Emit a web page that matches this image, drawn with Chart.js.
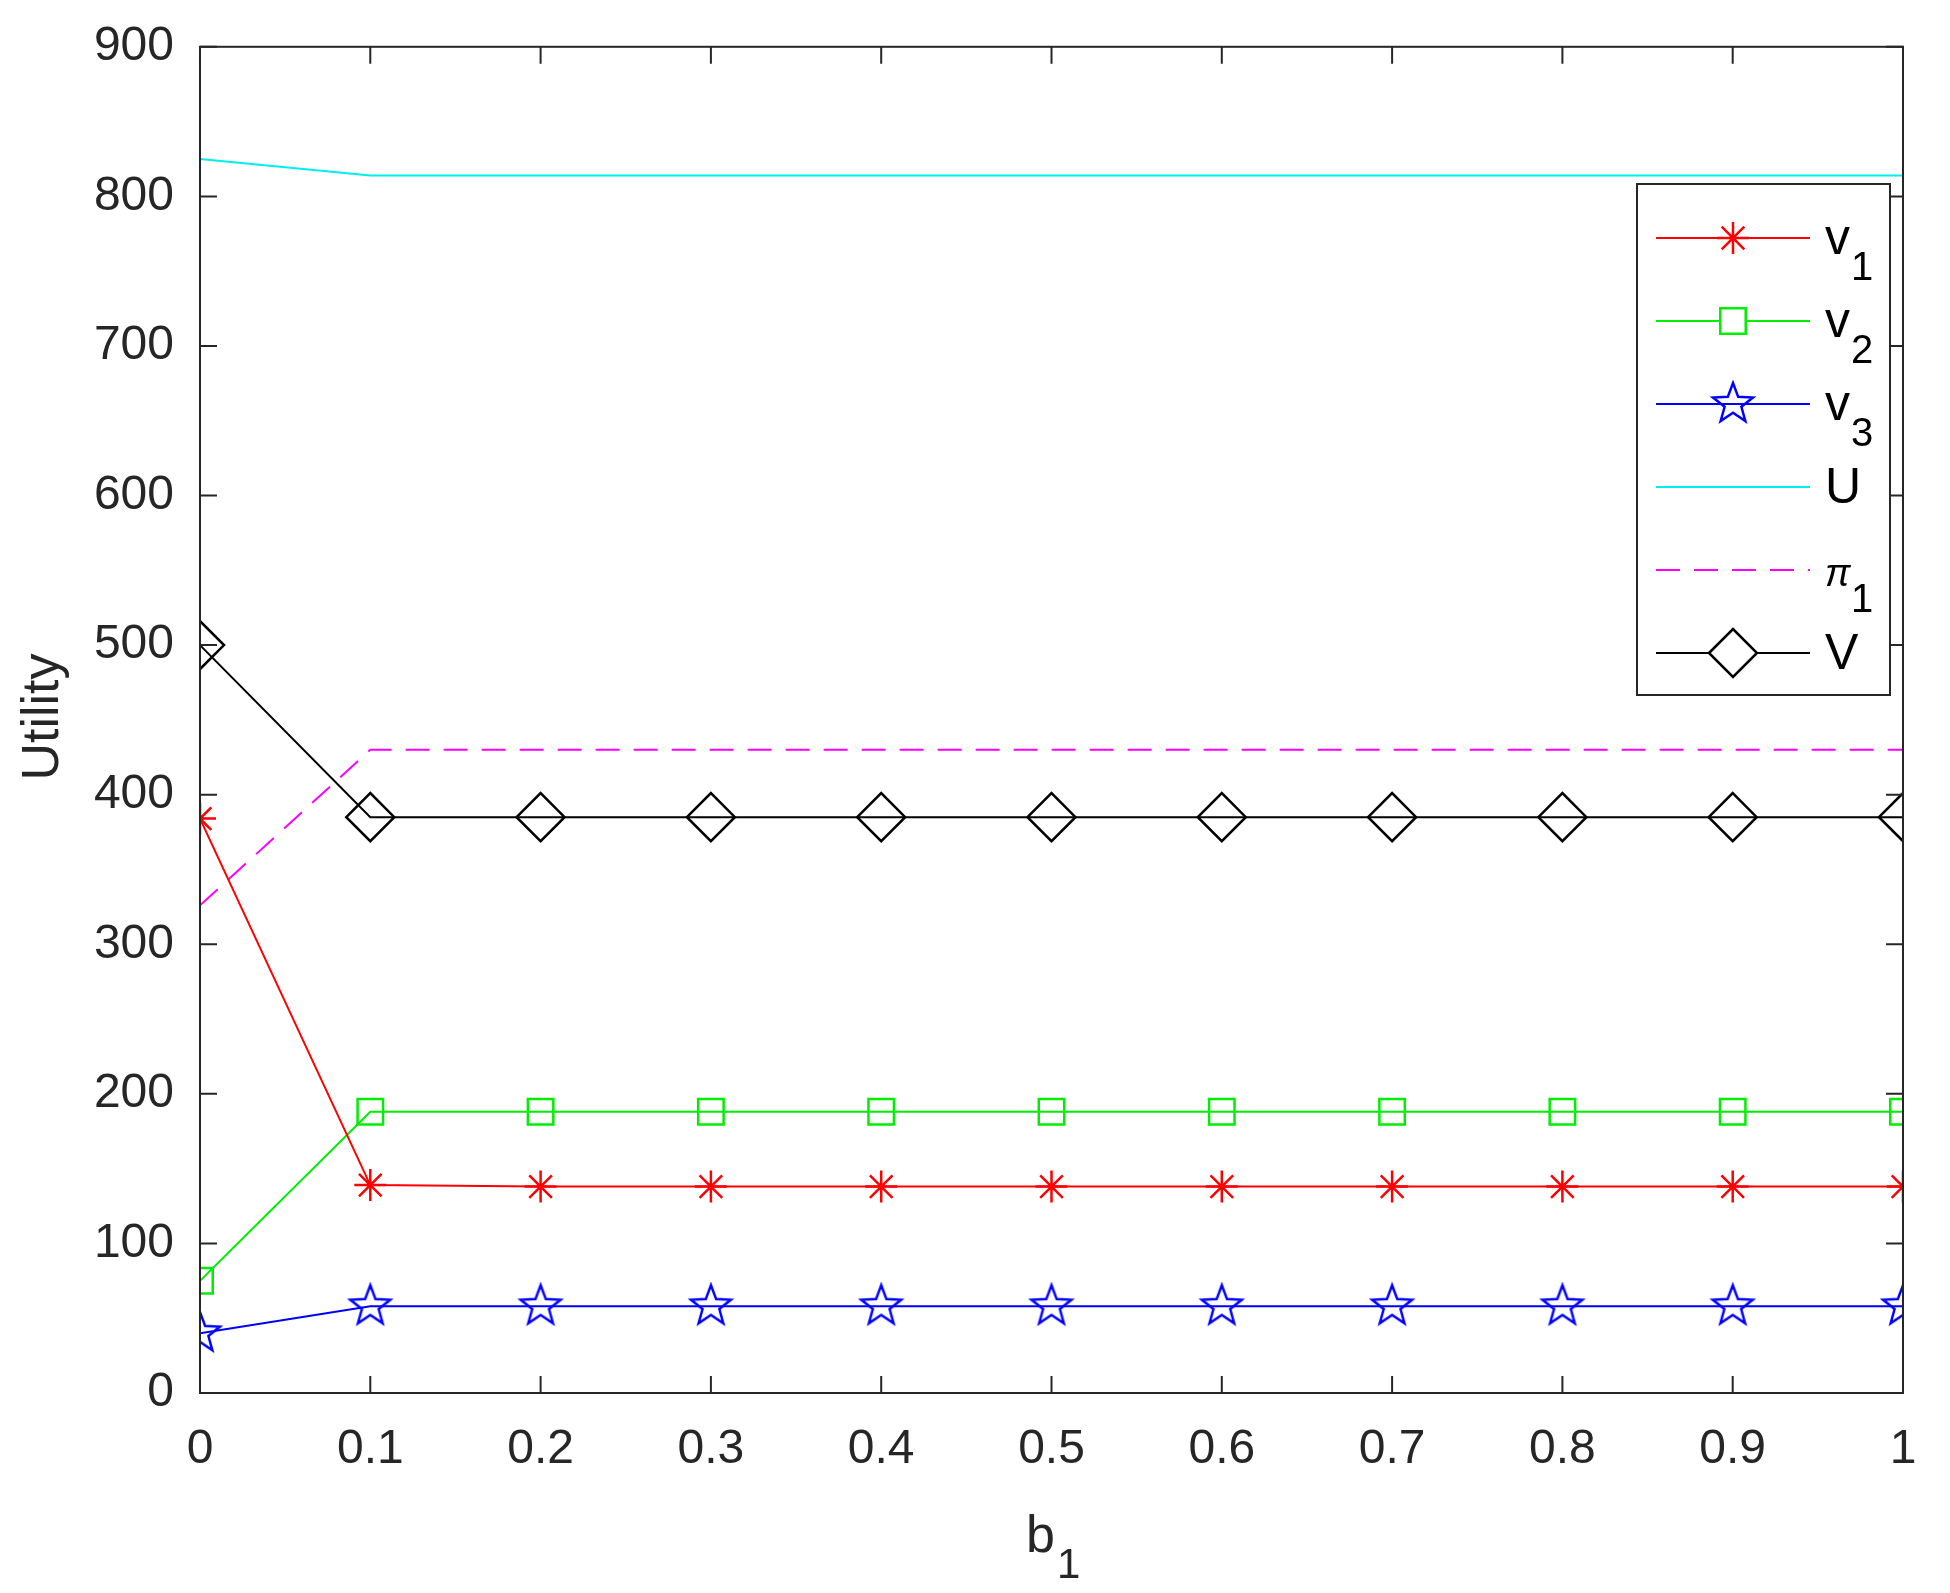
<!DOCTYPE html>
<html><head><meta charset="utf-8">
<script src="https://cdn.jsdelivr.net/npm/chart.js@4/dist/chart.umd.min.js"></script>
<style>body{margin:0;background:#fff}</style>
</head><body>
<canvas id="myChart" width="1950" height="1593" style="width:1950px;height:1593px"></canvas>
<script>
let b1Values = [0, 0.1, 0.2, 0.3, 0.4, 0.5, 0.6, 0.7, 0.8, 0.9, 1];
let v1Values = [384, 139, 138, 138, 138, 138, 138, 138, 138, 138, 138];
let v2Values = [75, 188, 188, 188, 188, 188, 188, 188, 188, 188, 188];
let v3Values = [40, 58, 58, 58, 58, 58, 58, 58, 58, 58, 58];
let uValues = [825, 814, 814, 814, 814, 814, 814, 814, 814, 814, 814];
let pi1Values = [326, 430, 430, 430, 430, 430, 430, 430, 430, 430, 430];
let vValues = [500, 385, 385, 385, 385, 385, 385, 385, 385, 385, 385];
let xTicks = [0, 0.1, 0.2, 0.3, 0.4, 0.5, 0.6, 0.7, 0.8, 0.9, 1];
let yTicks = [0, 100, 200, 300, 400, 500, 600, 700, 800, 900];

const FONT = '"Liberation Sans", Arial, sans-serif';

function pentagram(color, r) {
    let c = document.createElement('canvas');
    c.width = c.height = 2 * r + 6;
    let g = c.getContext('2d');
    g.strokeStyle = color; g.lineWidth = 2.5;
    g.beginPath();
    for (let i = 0; i < 10; i++) {
        let a = -Math.PI / 2 + i * Math.PI / 5;
        let rr = i % 2 ? r * 0.42 : r;
        let px = r + 3 + rr * Math.cos(a), py = r + 3 + rr * Math.sin(a);
        i ? g.lineTo(px, py) : g.moveTo(px, py);
    }
    g.closePath(); g.stroke();
    return c;
}
const starImg = pentagram('#0000ff', 21);

function pts(arr) { return arr.map((y, i) => ({x: b1Values[i], y: y})); }

const series = [
    {label: 'v', sub: '1', data: v1Values, color: '#ff0000', style: 'star', r: 16},
    {label: 'v', sub: '2', data: v2Values, color: '#00ee00', style: 'rect', r: 18},
    {label: 'v', sub: '3', data: v3Values, color: '#0000ff', style: starImg, r: 21},
    {label: 'U', sub: '', data: uValues, color: '#00eeee', style: false, r: 0},
    {label: 'π', sub: '1', data: pi1Values, color: '#ff00ff', style: false, r: 0, dash: [24, 14]},
    {label: 'V', sub: '', data: vValues, color: '#000000', style: 'rectRot', r: 24}
];

const framePlugin = {
    id: 'frame',
    afterDraw(chart) {
        const ctx = chart.ctx, a = chart.chartArea;
        const xs = chart.scales.x, ys = chart.scales.y;
        ctx.save();
        ctx.strokeStyle = '#262626'; ctx.lineWidth = 2;
        ctx.strokeRect(a.left, a.top, a.right - a.left, a.bottom - a.top);
        ctx.beginPath();
        xTicks.forEach(t => {
            let px = xs.getPixelForValue(t);
            ctx.moveTo(px, a.bottom); ctx.lineTo(px, a.bottom - 17);
            ctx.moveTo(px, a.top); ctx.lineTo(px, a.top + 17);
        });
        yTicks.forEach(t => {
            let py = ys.getPixelForValue(t);
            ctx.moveTo(a.left, py); ctx.lineTo(a.left + 17, py);
            ctx.moveTo(a.right, py); ctx.lineTo(a.right - 17, py);
        });
        ctx.stroke();
        // axis titles
        ctx.fillStyle = '#262626';
        ctx.font = '52px ' + FONT;
        ctx.textAlign = 'left'; ctx.textBaseline = 'alphabetic';
        ctx.fillText('b', 1026, 1552);
        ctx.font = '42px ' + FONT;
        ctx.fillText('1', 1057, 1578);
        ctx.save();
        ctx.translate(58, 717); ctx.rotate(-Math.PI / 2);
        ctx.font = '52px ' + FONT; ctx.textAlign = 'center';
        ctx.fillText('Utility', 0, 0);
        ctx.restore();
        // legend
        ctx.fillStyle = '#fff';
        ctx.fillRect(1637, 184, 253, 511);
        ctx.strokeStyle = '#262626'; ctx.lineWidth = 2;
        ctx.strokeRect(1637, 184, 253, 511);
        series.forEach((s, i) => {
            let y = 238 + i * 83;
            ctx.strokeStyle = s.color; ctx.lineWidth = 2;
            ctx.setLineDash(s.dash || []);
            ctx.beginPath(); ctx.moveTo(1656, y); ctx.lineTo(1810, y); ctx.stroke();
            ctx.setLineDash([]);
            if (s.style) {
                ctx.strokeStyle = s.color; ctx.lineWidth = 2.5;
                ctx.fillStyle = '#ffffff';
                Chart.helpers.drawPoint(ctx, {pointStyle: s.style, radius: s.r, borderWidth: 2.5, rotation: 0}, 1733, y);
            }
            ctx.fillStyle = '#000';
            ctx.font = (s.label === 'π' ? 'italic 38px ' : '50px ') + FONT;
            ctx.fillText(s.label, 1825, y + 16);
            if (s.sub) {
                ctx.font = '40px ' + FONT;
                ctx.fillText(s.sub, 1851, y + 42);
            }
        });
        ctx.restore();
    }
};

let chartElement = document.getElementById('myChart').getContext('2d');
let myChart = new Chart(chartElement, {
    type: 'line',
    data: {
        datasets: series.map(s => ({
            label: s.label + s.sub,
            data: pts(s.data),
            borderColor: s.color,
            backgroundColor: 'transparent',
            borderWidth: 2,
            borderDash: s.dash || [],
            pointStyle: s.style,
            pointRadius: s.r,
            pointBorderWidth: 2.5,
            pointBorderColor: s.color,
            pointBackgroundColor: 'transparent',
            tension: 0
        }))
    },
    options: {
        responsive: false,
        animation: false,
        layout: {padding: {top: 29, right: 47, left: 0, bottom: 0}},
        plugins: {legend: {display: false}, tooltip: {enabled: false}},
        scales: {
            x: {
                type: 'linear', min: 0, max: 1,
                grid: {display: false}, border: {display: false},
                afterBuildTicks: sc => { sc.ticks = xTicks.map(v => ({value: v})); },
                afterFit: sc => { sc.height = 200; },
                ticks: {padding: 20, color: '#262626', font: {size: 48, family: FONT},
                    callback: v => String(v), maxRotation: 0, autoSkip: false}
            },
            y: {
                min: 0, max: 900,
                grid: {display: false}, border: {display: false},
                afterBuildTicks: sc => { sc.ticks = yTicks.map(v => ({value: v})); },
                afterFit: sc => { sc.width = 200; },
                ticks: {padding: 18, color: '#262626', font: {size: 48, family: FONT}}
            }
        }
    },
    plugins: [framePlugin]
});
</script>
</body></html>
